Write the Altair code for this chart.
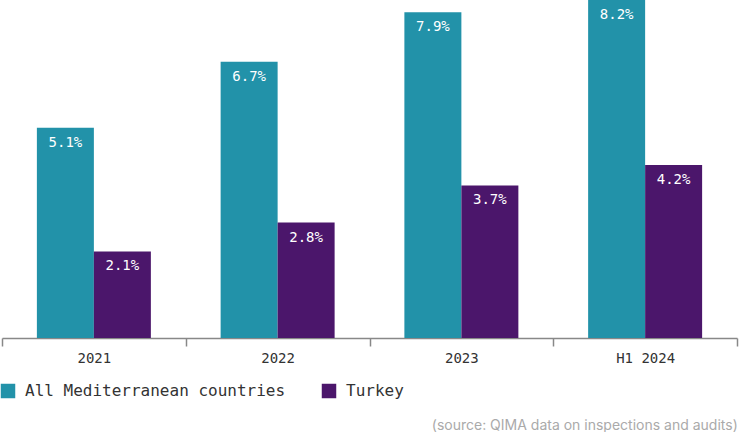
import altair as alt
import pandas as pd

categories = ["2021", "2022", "2023", "H1 2024"]
series_names = ["All Mediterranean countries", "Turkey"]
med_values = [5.1, 6.7, 7.9, 8.2]
turkey_values = [2.1, 2.8, 3.7, 4.2]
colors = ["#2292A9", "#4B166B"]

rows = []
for c, m, t in zip(categories, med_values, turkey_values):
    rows.append({"cat": c, "series": series_names[0], "value": m, "label": f"{m:.1f}%"})
    rows.append({"cat": c, "series": series_names[1], "value": t, "label": f"{t:.1f}%"})
df = pd.DataFrame(rows)

mono = "DejaVu Sans Mono"

x = alt.X("cat:N", sort=categories, title=None,
          scale=alt.Scale(paddingInner=0, paddingOuter=0),
          axis=alt.Axis(labelAngle=0, tickBand="extent", tickSize=8, tickColor="#888888",
                        domainColor="#888888", domainWidth=1.5, tickWidth=1.5,
                        labelFont=mono, labelFontSize=14, labelColor="#333333",
                        labelPadding=5))
y = alt.Y("value:Q", title=None, scale=alt.Scale(domain=[0, 8.2], nice=False), axis=None)
xo = alt.XOffset("series:N", sort=series_names,
                 scale=alt.Scale(paddingInner=0, paddingOuter=0.612))
color = alt.Color("series:N", sort=series_names,
                  scale=alt.Scale(domain=series_names, range=colors),
                  legend=alt.Legend(title=None, orient="none", legendX=-2, legendY=383,
                                    direction="horizontal", symbolType="square",
                                    symbolSize=210, symbolStrokeWidth=0, symbolOpacity=1,
                                    labelFont=mono, labelFontSize=16, labelColor="#333333",
                                    labelLimit=400, columnPadding=35, labelOffset=9))

bars = alt.Chart(df).mark_bar().encode(x=x, xOffset=xo, y=y, color=color)
labels = alt.Chart(df).mark_text(baseline="top", dy=8, color="white", font=mono,
                                 fontSize=14).encode(x=x, xOffset=xo, y=y, text="label:N")

chart = (bars + labels).properties(
    width=735, height=338,
    autosize=alt.AutoSizeParams(type="none"),
    padding={"left": 2, "top": 0, "right": 4, "bottom": 94},
    title=alt.TitleParams("(source: QIMA data on inspections and audits)", orient="bottom",
                          anchor="end", font="Inter", fontSize=14, fontWeight="normal",
                          color="#aaaaaa", offset=20),
).configure_view(stroke=None)

chart.save("out.html", embed_options={"renderer": "svg", "actions": False})
